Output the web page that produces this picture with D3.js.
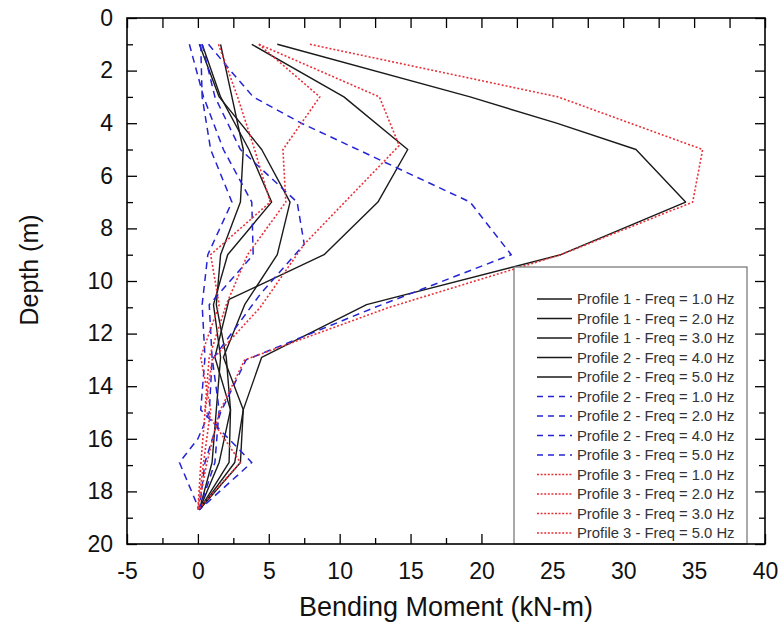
<!DOCTYPE html>
<html>
<head>
<meta charset="utf-8">
<script src="https://cdn.jsdelivr.net/npm/d3@7"></script>
<style>
  html, body { margin: 0; padding: 0; background: #fff; }
  svg { display: block; font-family: "Liberation Sans", Arial, sans-serif; }
</style>
</head>
<body>
<svg id="chart" width="778" height="626"></svg>
<script>
// Bending moment (kN-m) along the pile versus depth (m)
const xTicks = [-5, 0, 5, 10, 15, 20, 25, 30, 35, 40];
const yTicks = [0, 2, 4, 6, 8, 10, 12, 14, 16, 18, 20];

const legendLabels = [
  "Profile 1 - Freq = 1.0 Hz",
  "Profile 1 - Freq = 2.0 Hz",
  "Profile 1 - Freq = 3.0 Hz",
  "Profile 2 - Freq = 4.0 Hz",
  "Profile 2 - Freq = 5.0 Hz",
  "Profile 2 - Freq = 1.0 Hz",
  "Profile 2 - Freq = 2.0 Hz",
  "Profile 2 - Freq = 4.0 Hz",
  "Profile 3 - Freq = 5.0 Hz",
  "Profile 3 - Freq = 1.0 Hz",
  "Profile 3 - Freq = 2.0 Hz",
  "Profile 3 - Freq = 3.0 Hz",
  "Profile 3 - Freq = 5.0 Hz"
];
const lineKinds = ["solid", "solid", "solid", "solid", "solid",
                   "dash", "dash", "dash", "dash",
                   "dot", "dot", "dot", "dot"];

// depths of the gauges (m)
const depthStd   = [1, 3, 5, 7, 9, 10.9, 12.9, 14.9, 16.9, 18.7];
const depthP2F5  = [1, 3, 4, 5, 7, 9, 10.9, 12.9, 14.9, 16.9, 18.7];
const depthP2F4s = [1, 3, 5, 7, 9, 10.7, 12.9, 14.9, 16.9, 18.7];
const depthP2F4d = [1, 3, 5, 7, 8.6, 10.5, 13, 15, 16, 16.9, 18.7];
const depthP3F5d = [1, 2, 3, 4, 7, 9, 11, 13, 15, 16.9, 18.7];
const depthP3F3  = [1, 3, 4.85, 8.6, 11, 13, 15, 17, 18.7];
const depthP3F5  = [1, 3, 5, 7, 9, 11, 13, 15, 17, 18.7];

// moments (kN-m)
const p1f1  = [0.1, 1.5, 4.5, 6.5, 5.6, 3.3, 1.8, 3.2, 2.6, 0.1];
const p1f2  = [1.6, 2.4, 3.2, 3.0, 1.6, 1.3, 2.0, 2.3, 1.5, 0.1];
const p1f3  = [0.3, 1.6, 3.6, 5.2, 2.1, 1.1, 1.6, 1.3, 1.0, 0.1];
const p2f4  = [3.8, 10.3, 14.8, 12.7, 8.9, 2.2, 1.2, 2.3, 2.2, 0.1];
const p2f5  = [5.6, 19.2, 25.3, 30.9, 34.4, 25.6, 11.9, 4.5, 3.2, 3.0, 0.1];
const p2f1d = [0.2, 0.3, 0.9, 2.4, 0.7, 0.3, 0.5, 0.2, 3.8, 0.1];
const p2f2d = [-0.6, 0.4, 1.8, 3.8, 3.9, 0.8, 1.0, 1.5, 1.2, 0.1];
const p2f4d = [0.3, 1.2, 3.0, 7.0, 7.5, 4.4, 1.0, 0.8, 0.0, -1.3, 0.1];
const p3f5d = [0.75, 2.3, 3.9, 7.3, 19.2, 22.1, 12.5, 3.4, 1.6, 0.5, 0.1];
const p3f1  = [1.45, 2.8, 4.0, 5.1, 0.9, 1.5, 0.2, 0.9, 0.4, 0.0];
const p3f2  = [4.3, 8.6, 6.0, 6.2, 3.5, 2.0, 0.8, 0.5, 3.0, 0.0];
const p3f3  = [4.3, 12.8, 14.2, 7.5, 4.4, 1.0, 0.5, 0.2, 0.0];
const p3f5  = [7.9, 25.4, 35.6, 34.9, 25.6, 13.5, 3.3, 1.5, 0.6, 0.0];

const seriesDepths = [depthStd, depthStd, depthStd, depthP2F4s, depthP2F5,
                      depthStd, depthStd, depthP2F4d, depthP3F5d,
                      depthStd, depthStd, depthP3F3, depthP3F5];
const seriesValues = [p1f1, p1f2, p1f3, p2f4, p2f5,
                      p2f1d, p2f2d, p2f4d, p3f5d,
                      p3f1, p3f2, p3f3, p3f5];

const styles = {
  solid: { stroke: "#1a1a1a", dash: null, width: 1.4 },
  dash:  { stroke: "#2424d6", dash: "7,5", width: 1.5 },
  dot:   { stroke: "#e8323a", dash: "2,2", width: 1.6 }
};

const svg = d3.select("#chart");
const L = 127, R = 765, T = 18, B = 544;

const x = d3.scaleLinear().domain([-5, 40]).range([L, R]);
const y = d3.scaleLinear().domain([0, 20]).range([T, B]);

// series
const line = d3.line().x(d => x(d[0])).y(d => y(d[1]));
const plot = svg.append("g");
seriesValues.forEach((vals, i) => {
  const pts = vals.map((v, j) => [v, seriesDepths[i][j]]);
  const st = styles[lineKinds[i]];
  plot.append("path")
    .datum(pts)
    .attr("d", line)
    .attr("fill", "none")
    .attr("stroke", st.stroke)
    .attr("stroke-width", st.width)
    .attr("stroke-dasharray", st.dash)
    .attr("stroke-linejoin", "round");
});

// axes with inward ticks on all four sides
const fontSize = 23;
const xMinor = d3.range(-2.5, 40, 5);
const yMinor = d3.range(1, 20, 2);
const plain = d => String(d);

function styleAxis(g) {
  g.select(".domain").remove();
  g.selectAll("line").attr("stroke", "#000").attr("stroke-width", 1.3);
  g.selectAll("text").attr("fill", "#111").style("font-size", fontSize + "px");
}

svg.append("g").attr("transform", `translate(0,${B})`)
  .call(d3.axisBottom(x).tickValues(xTicks).tickSize(-10).tickPadding(19).tickFormat(plain))
  .call(styleAxis);
svg.append("g").attr("transform", `translate(0,${B})`)
  .call(d3.axisBottom(x).tickValues(xMinor).tickSize(-6).tickFormat(""))
  .call(styleAxis);
svg.append("g").attr("transform", `translate(0,${T})`)
  .call(d3.axisTop(x).tickValues(xTicks.concat(xMinor)).tickSize(-10).tickFormat(""))
  .call(styleAxis);

svg.append("g").attr("transform", `translate(${L},0)`)
  .call(d3.axisLeft(y).tickValues(yTicks).tickSize(-10).tickPadding(14).tickFormat(plain))
  .call(styleAxis);
svg.append("g").attr("transform", `translate(${L},0)`)
  .call(d3.axisLeft(y).tickValues(yMinor).tickSize(-6).tickFormat(""))
  .call(styleAxis);
svg.append("g").attr("transform", `translate(${R},0)`)
  .call(d3.axisRight(y).tickValues(yTicks).tickSize(-10).tickFormat(""))
  .call(styleAxis);
svg.append("g").attr("transform", `translate(${R},0)`)
  .call(d3.axisRight(y).tickValues(yMinor).tickSize(-6).tickFormat(""))
  .call(styleAxis);

// legend
const lg = svg.append("g");
lg.append("rect")
  .attr("x", 514).attr("y", 267).attr("width", 233).attr("height", B - 267)
  .attr("fill", "#fff").attr("stroke", "#707070").attr("stroke-width", 1.2);
legendLabels.forEach((lab, i) => {
  const yy = 299 + i * 19.5;
  const st = styles[lineKinds[i]];
  lg.append("line")
    .attr("x1", 537).attr("x2", 572).attr("y1", yy).attr("y2", yy)
    .attr("stroke", st.stroke).attr("stroke-width", st.width)
    .attr("stroke-dasharray", lineKinds[i] === "dash" ? "6,5" : (lineKinds[i] === "dot" ? "2,1.6" : null));
  lg.append("text")
    .attr("x", 577).attr("y", yy).attr("dy", "0.35em")
    .attr("fill", "#333").style("font-size", "14.8px")
    .text(lab);
});

// frame
svg.append("rect")
  .attr("x", L).attr("y", T).attr("width", R - L).attr("height", B - T)
  .attr("fill", "none").attr("stroke", "#000").attr("stroke-width", 1.6);

// axis titles
svg.append("text")
  .attr("x", (L + R) / 2).attr("y", 616)
  .attr("text-anchor", "middle").style("font-size", "27px").attr("fill", "#111")
  .text("Bending Moment (kN-m)");
svg.append("text")
  .attr("transform", `translate(38,270) rotate(-90)`)
  .attr("text-anchor", "middle").style("font-size", "25px").attr("fill", "#111")
  .text("Depth (m)");
</script>
</body>
</html>
